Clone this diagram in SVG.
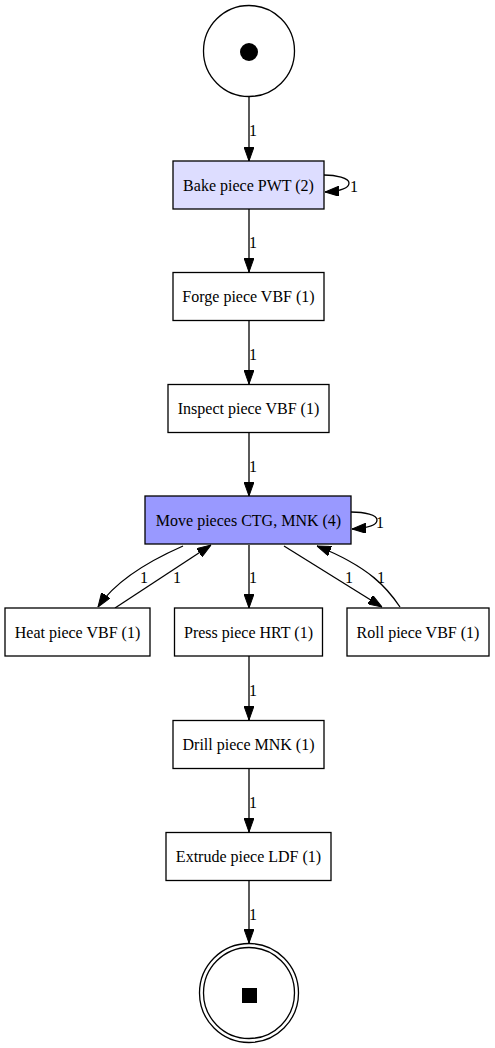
<svg xmlns="http://www.w3.org/2000/svg" width="495" height="1048" viewBox="0 0 495 1048">
<style>
  .box { stroke: #000; stroke-width: 1.3; }
  .plain { fill: #ffffff; }
  .light { fill: #ddddff; }
  .dark { fill: #9999ff; }
  .place { fill: #ffffff; stroke: #000; stroke-width: 1.3; }
  .lbl { font-family: "Liberation Serif", "Times New Roman", serif; font-size: 16px; fill: #000; text-anchor: middle; }
  .edge { fill: none; stroke: #000; stroke-width: 1.3; marker-end: url(#arr); }
</style>
<defs>
  <marker id="arr" viewBox="0 0 14 10" refX="14" refY="5" markerWidth="14" markerHeight="10" markerUnits="userSpaceOnUse" orient="auto">
    <path d="M0,0 L14,5 L0,10 z" fill="#000" stroke="#000" stroke-width="1"/>
  </marker>
</defs>
<rect width="495" height="1048" fill="#ffffff"/>

<g id="connectors">
  <path class="edge" d="M249,97 L249,161"/>
  <text class="lbl" x="253" y="136">1</text>
  <path class="edge" d="M324,175 C336,175 349,178 349,183 C349,188 343,191 325,192"/>
  <text class="lbl" x="354" y="192">1</text>
  <path class="edge" d="M249,209 L249,272"/>
  <text class="lbl" x="253" y="248">1</text>
  <path class="edge" d="M249,321 L249,384"/>
  <text class="lbl" x="253" y="360">1</text>
  <path class="edge" d="M249,433 L249,496"/>
  <text class="lbl" x="253" y="472">1</text>
  <path class="edge" d="M351,512 C365,512 377,515 377,520 C377,525 370,528 352,529"/>
  <text class="lbl" x="380" y="528">1</text>
  <path class="edge" d="M183,546 C158,557 118,577 98,607"/>
  <text class="lbl" x="144" y="583">1</text>
  <path class="edge" d="M115,608 L211,545"/>
  <text class="lbl" x="177" y="583">1</text>
  <path class="edge" d="M249,545 L249,608"/>
  <text class="lbl" x="253" y="583">1</text>
  <path class="edge" d="M284,546 L382,607"/>
  <text class="lbl" x="349" y="583">1</text>
  <path class="edge" d="M400,607 C388,589 370,567 317,546"/>
  <text class="lbl" x="381" y="583">1</text>
  <path class="edge" d="M249,656 L249,720"/>
  <text class="lbl" x="253" y="696">1</text>
  <path class="edge" d="M249,769 L249,832"/>
  <text class="lbl" x="253" y="808">1</text>
  <path class="edge" d="M249,881 L249,943"/>
  <text class="lbl" x="253" y="920">1</text>
</g>

<g id="start">
  <circle class="place" cx="249" cy="51" r="45.5"/>
  <circle cx="249" cy="52" r="9" fill="#000"/>
</g>
<g id="bake">
  <rect class="box light" x="173" y="161" width="151" height="48"/>
  <text class="lbl" x="248.5" y="190.5">Bake piece PWT (2)</text>
</g>
<g id="forge">
  <rect class="box plain" x="173" y="272.5" width="151" height="48"/>
  <text class="lbl" x="248.5" y="302">Forge piece VBF (1)</text>
</g>
<g id="inspect">
  <rect class="box plain" x="168" y="384.5" width="161" height="48"/>
  <text class="lbl" x="248.5" y="414">Inspect piece VBF (1)</text>
</g>
<g id="move">
  <rect class="box dark" x="145" y="496" width="206" height="48"/>
  <text class="lbl" x="248.5" y="525.5">Move pieces CTG, MNK (4)</text>
</g>
<g id="heat">
  <rect class="box plain" x="5" y="608" width="145" height="48"/>
  <text class="lbl" x="77.5" y="637.5">Heat piece VBF (1)</text>
</g>
<g id="press">
  <rect class="box plain" x="174.5" y="608" width="148" height="48"/>
  <text class="lbl" x="248.5" y="637.5">Press piece HRT (1)</text>
</g>
<g id="roll">
  <rect class="box plain" x="347" y="608" width="142" height="48"/>
  <text class="lbl" x="418" y="637.5">Roll piece VBF (1)</text>
</g>
<g id="drill">
  <rect class="box plain" x="173" y="720.5" width="151" height="48"/>
  <text class="lbl" x="248.5" y="750">Drill piece MNK (1)</text>
</g>
<g id="extrude">
  <rect class="box plain" x="166" y="832.5" width="165" height="48"/>
  <text class="lbl" x="248.5" y="862">Extrude piece LDF (1)</text>
</g>
<g id="end">
  <circle class="place" cx="249" cy="993" r="49.5"/>
  <circle class="place" cx="249" cy="993" r="45.5"/>
  <rect x="242" y="988" width="15" height="15" fill="#000"/>
</g>
</svg>
